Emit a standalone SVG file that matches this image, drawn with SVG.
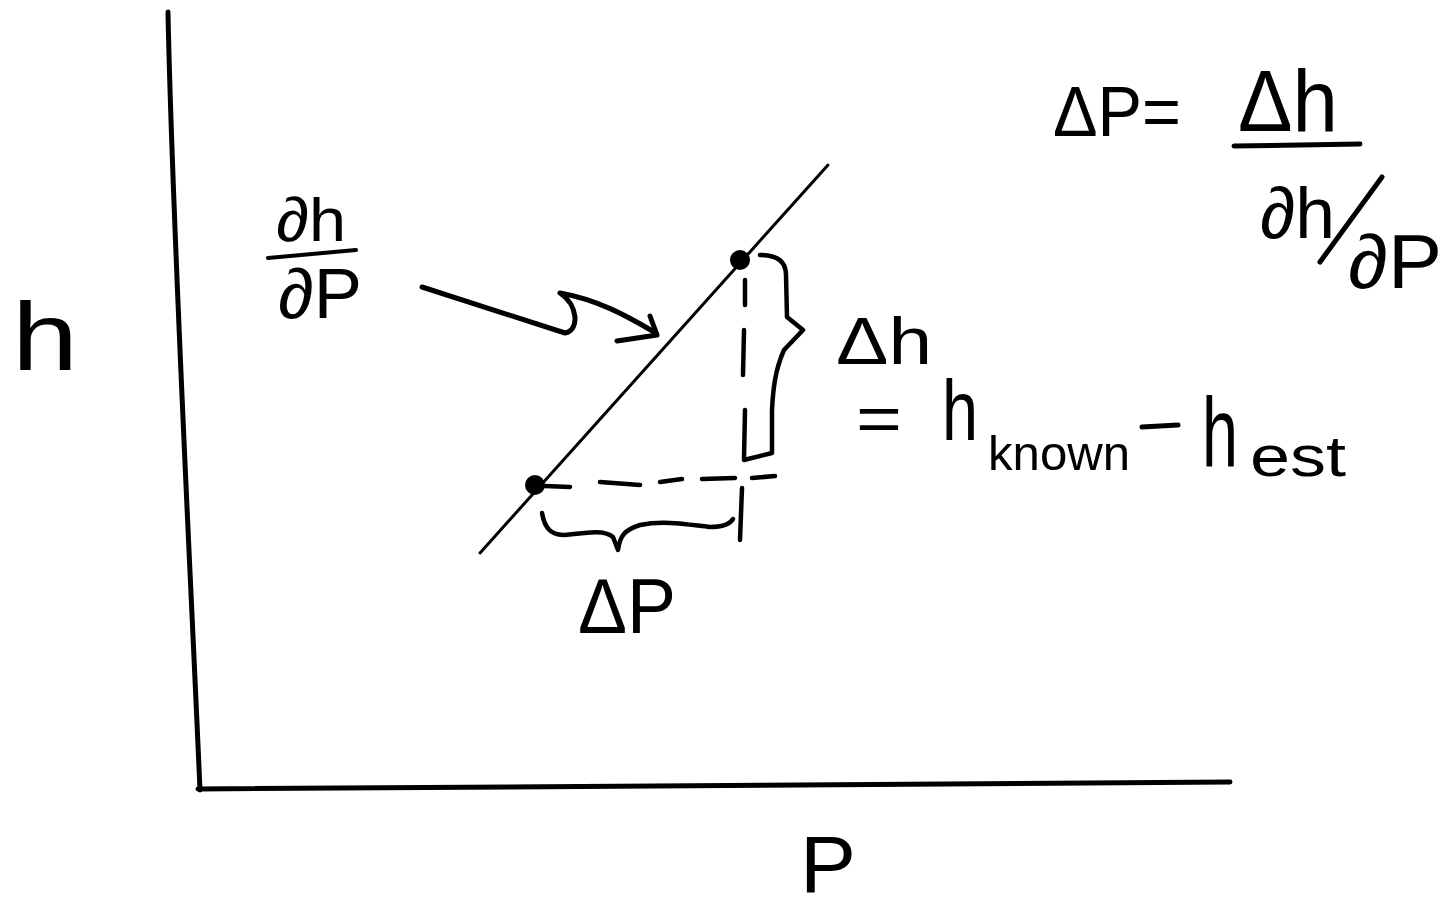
<svg xmlns="http://www.w3.org/2000/svg" width="1447" height="913" viewBox="0 0 1447 913">
<style>
.t{font-family:"Liberation Sans","DejaVu Sans",sans-serif;fill:#000}
.s{fill:none;stroke:#000;stroke-linecap:round;stroke-linejoin:round}
</style>
<rect width="1447" height="913" fill="#fff"/>
<g id="axes">
<path class="s" stroke-width="5" d="M168,12 C172,220 190,560 200,790"/>
<path class="s" stroke-width="5" d="M198,789 L1230,782"/>
</g>
<g id="axis-labels">
<text class="t" x="12" y="370" font-size="96" textLength="66" lengthAdjust="spacingAndGlyphs">h</text>
<text class="t" x="800" y="892" font-size="80" textLength="56" lengthAdjust="spacingAndGlyphs">P</text>
</g>
<g id="tangent-line">
<path class="s" stroke-width="3" d="M480,553 L828,165"/>
<circle cx="535" cy="485" r="10" fill="#000"/>
<circle cx="740" cy="260" r="10" fill="#000"/>
</g>
<g id="guides">
<path class="s" stroke-width="4.5" d="M745,280 L745,305 M744,330 L743,375 M745,410 L744,458 M742,488 L740,540"/>
<path class="s" stroke-width="4.5" d="M545,486 L570,487 M600,482 L640,485 M660,482 L682,479 M702,479 L735,478 M752,478 L775,476"/>
</g>
<g id="braces">
<path class="s" stroke-width="4.5" d="M760,255 C778,255 786,262 786,275 L787,317 L803,330 L784,350 C775,370 773,390 772,410 L772,453 L744,460"/>
<path class="s" stroke-width="4.5" d="M542,513 C545,530 552,535 565,535 C590,532 605,530 613,537 L618,550 C620,535 625,530 640,525 C665,520 690,525 710,527 C722,527 730,524 733,519"/>
</g>
<g id="connectors">
<path class="s" stroke-width="5" d="M422,287 L565,333 C580,330 578,305 560,293 C600,300 630,318 656,333"/>
<path class="s" stroke-width="5" d="M617,341 L657,335 L650,316"/>
</g>
<g id="slope-label">
<text class="t" x="276" y="241" font-size="62" textLength="70" lengthAdjust="spacingAndGlyphs">∂h</text>
<path class="s" stroke-width="4" d="M268,258 L356,250"/>
<text class="t" x="278" y="318" font-size="70" textLength="84" lengthAdjust="spacingAndGlyphs">∂P</text>
</g>
<g id="delta-h-label">
<text class="t" x="836" y="364" font-size="66" textLength="96" lengthAdjust="spacingAndGlyphs">Δh</text>
<text class="t" x="856" y="441" font-size="64" textLength="46" lengthAdjust="spacingAndGlyphs">=</text>
<text class="t" x="942" y="440" font-size="86" textLength="36" lengthAdjust="spacingAndGlyphs">h</text>
<text class="t" x="988" y="470" font-size="48" textLength="142" lengthAdjust="spacingAndGlyphs">known</text>
<path class="s" stroke-width="5" d="M1142,427 L1178,425"/>
<text class="t" x="1202" y="466" font-size="98" textLength="36" lengthAdjust="spacingAndGlyphs">h</text>
<text class="t" x="1250" y="476" font-size="58" textLength="96" lengthAdjust="spacingAndGlyphs">est</text>
</g>
<g id="delta-p-label">
<text class="t" x="578" y="633" font-size="78" textLength="98" lengthAdjust="spacingAndGlyphs">ΔP</text>
</g>
<g id="formula">
<text class="t" x="1053" y="136" font-size="70" textLength="128" lengthAdjust="spacingAndGlyphs">ΔP=</text>
<text class="t" x="1238" y="131" font-size="88" textLength="100" lengthAdjust="spacingAndGlyphs">Δh</text>
<path class="s" stroke-width="5" d="M1234,146 L1360,144"/>
<text class="t" x="1260" y="238" font-size="72" textLength="75" lengthAdjust="spacingAndGlyphs">∂h</text>
<path class="s" stroke-width="5" d="M1382,177 L1320,262"/>
<text class="t" x="1348" y="288" font-size="76" textLength="94" lengthAdjust="spacingAndGlyphs">∂P</text>
</g>
</svg>
